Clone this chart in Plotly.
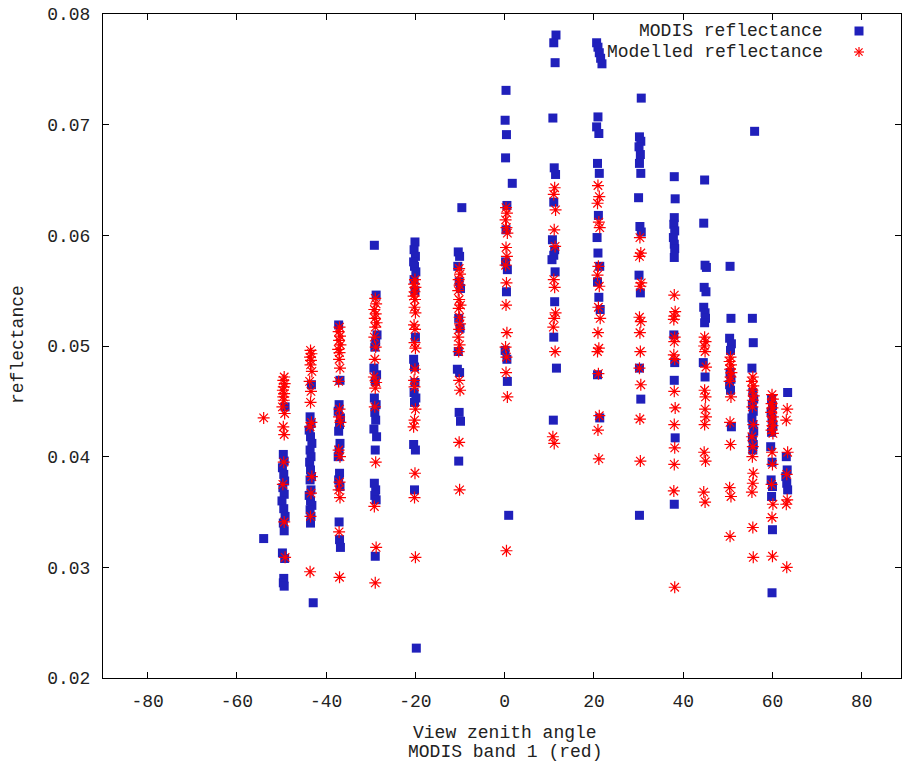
import plotly.graph_objects as go

# ---- MODIS reflectance (blue squares): view zenith angle, reflectance ----
modis_vza = (
    [-54.0]
    + [-49.2, -49.6, -49.4, -49.8, -49.5, -49.3, -49.7, -49.4, -49.9, -49.5, -49.2, -49.6, -49.4, -49.8, -49.3, -49.5, -49.6, -49.4]
    + [-43.3, -43.6, -43.4, -43.8, -43.5, -43.2, -43.6, -43.4, -43.7, -43.5, -43.3, -43.6, -43.4, -43.8, -43.5, -43.2, -43.6, -43.4, -43.5, -42.9]
    + [-37.2, -36.9, -37.1, -37.3, -36.8, -37.0, -37.2, -36.9, -37.1, -37.3, -37.0, -37.2, -36.9, -37.1, -37.0, -36.8]
    + [-29.2, -28.8, -28.6, -28.9, -29.1, -29.3, -28.7, -29.0, -29.2, -28.8, -29.1, -28.9, -29.3, -28.7, -29.0, -29.2, -28.9, -29.1, -28.8, -29.0]
    + [-20.1, -20.3, -20.0, -20.4, -20.2, -19.9, -20.3, -20.1, -20.0, -20.4, -20.2, -20.1, -20.3, -19.9, -20.2, -20.4, -20.0, -20.2, -19.8]
    + [-9.6, -10.4, -10.1, -10.5, -10.2, -9.9, -10.3, -10.0, -10.4, -10.6, -10.1, -10.2, -9.9, -10.3]
    + [0.3, 0.1, 0.4, 0.2, 1.7, 0.5, 0.3, 0.2, 0.6, 0.4, 0.1, 0.5, 0.6, 0.9]
    + [11.5, 11.0, 11.3, 10.8, 11.1, 11.4, 11.0, 10.7, 11.2, 11.0, 10.6, 11.3, 11.2, 11.0, 11.6, 10.9]
    + [20.6, 20.9, 21.2, 21.5, 21.8, 20.9, 20.6, 21.1, 20.8, 21.2, 21.0, 20.7, 20.9, 21.3, 20.8, 21.1, 21.4, 20.8, 21.3]
    + [30.6, 30.2, 30.5, 30.1, 30.4, 30.2, 30.5, 30.0, 30.3, 30.6, 30.1, 30.4, 30.2, 30.5, 30.2]
    + [38.0, 38.2, 38.0, 37.9, 38.1, 37.8, 38.0, 38.1, 38.0, 37.9, 38.1, 38.0, 38.2, 38.0]
    + [44.8, 44.6, 44.9, 45.2, 44.7, 45.1, 44.6, 44.9, 45.0, 44.8, 44.5, 44.9]
    + [50.5, 50.7, 50.4, 50.8, 50.6, 50.5, 50.7, 50.4, 50.6, 50.8]
    + [56.0, 55.5, 55.7, 55.4, 55.6, 55.8, 55.5, 55.7, 55.4, 55.6, 55.8, 55.5, 55.7, 55.6]
    + [59.8, 60.0, 59.7, 59.9, 60.1, 59.8, 59.6, 59.9, 59.7, 60.0, 59.8, 60.0, 59.9]
    + [63.4, 63.1, 63.3, 63.0, 63.2, 63.4]
)
modis_refl = (
    [0.0326]
    + [0.0445, 0.0402, 0.0396, 0.0390, 0.0384, 0.0378, 0.0372, 0.0366, 0.0360, 0.0353, 0.0346, 0.0340, 0.0333, 0.0313, 0.0308, 0.0290, 0.0286, 0.0283]
    + [0.0465, 0.0436, 0.0430, 0.0424, 0.0418, 0.0412, 0.0406, 0.0400, 0.0395, 0.0388, 0.0382, 0.0379, 0.0370, 0.0365, 0.0360, 0.0356, 0.0352, 0.0346, 0.0340, 0.0268]
    + [0.0519, 0.0469, 0.0447, 0.0441, 0.0435, 0.0429, 0.0423, 0.0412, 0.0406, 0.0400, 0.0385, 0.0379, 0.0373, 0.0341, 0.0325, 0.0318]
    + [0.0591, 0.0546, 0.0510, 0.0504, 0.0499, 0.0480, 0.0474, 0.0468, 0.0453, 0.0447, 0.0440, 0.0433, 0.0425, 0.0418, 0.0406, 0.0376, 0.0370, 0.0365, 0.0361, 0.0310]
    + [0.0594, 0.0587, 0.0581, 0.0576, 0.0572, 0.0567, 0.0560, 0.0550, 0.0508, 0.0488, 0.0481, 0.0467, 0.0458, 0.0453, 0.0449, 0.0411, 0.0406, 0.0370, 0.0227]
    + [0.0625, 0.0585, 0.0581, 0.0572, 0.0558, 0.0552, 0.0525, 0.0516, 0.0495, 0.0479, 0.0476, 0.0440, 0.0432, 0.0396]
    + [0.0731, 0.0704, 0.0691, 0.0670, 0.0647, 0.0627, 0.0605, 0.0576, 0.0569, 0.0549, 0.0496, 0.0488, 0.0468, 0.0347]
    + [0.0781, 0.0774, 0.0756, 0.0706, 0.0661, 0.0655, 0.0630, 0.0596, 0.0587, 0.0582, 0.0578, 0.0567, 0.0540, 0.0508, 0.0480, 0.0433]
    + [0.0774, 0.0770, 0.0765, 0.0760, 0.0755, 0.0707, 0.0698, 0.0692, 0.0665, 0.0656, 0.0618, 0.0598, 0.0584, 0.0572, 0.0558, 0.0544, 0.0533, 0.0474, 0.0435]
    + [0.0724, 0.0689, 0.0685, 0.0680, 0.0673, 0.0665, 0.0656, 0.0634, 0.0608, 0.0603, 0.0564, 0.0548, 0.0480, 0.0452, 0.0347]
    + [0.0653, 0.0633, 0.0616, 0.0610, 0.0604, 0.0598, 0.0592, 0.0588, 0.0580, 0.0510, 0.0485, 0.0469, 0.0417, 0.0357]
    + [0.0650, 0.0611, 0.0573, 0.0571, 0.0553, 0.0549, 0.0535, 0.0530, 0.0525, 0.0521, 0.0485, 0.0472]
    + [0.0572, 0.0525, 0.0507, 0.0502, 0.0496, 0.0476, 0.0470, 0.0465, 0.0460, 0.0427]
    + [0.0694, 0.0525, 0.0503, 0.0480, 0.0458, 0.0452, 0.0447, 0.0441, 0.0435, 0.0429, 0.0423, 0.0417, 0.0411, 0.0406]
    + [0.0452, 0.0446, 0.0440, 0.0434, 0.0428, 0.0422, 0.0409, 0.0395, 0.0379, 0.0373, 0.0364, 0.0334, 0.0277]
    + [0.0458, 0.0400, 0.0388, 0.0382, 0.0376, 0.0370]
)

# ---- Modelled reflectance (red asterisks) ----
model_vza = (
    [-54.0]
    + [-49.4, -49.6, -49.3, -49.5, -49.7, -49.4, -49.6, -49.5, -49.8, -49.3, -49.6, -49.4, -49.5, -49.7, -49.4, -49.2]
    + [-43.5, -43.3, -43.6, -43.4, -43.5, -43.2, -43.7, -43.4, -43.5, -43.3, -43.6, -43.2, -43.4, -43.5, -43.6]
    + [-37.0, -37.2, -36.9, -37.1, -36.8, -37.3, -37.0, -37.1, -36.9, -37.2, -37.0, -37.1, -36.8, -37.2, -36.9, -37.0, -37.2, -36.9, -37.1, -37.0]
    + [-29.0, -28.8, -29.2, -28.9, -29.1, -28.7, -29.0, -29.2, -28.9, -29.1, -29.3, -28.8, -29.0, -29.1, -28.9, -29.2, -28.8, -29.0]
    + [-20.1, -20.3, -20.0, -20.2, -20.4, -20.1, -20.2, -20.0, -20.3, -20.1, -20.2, -20.0, -20.1, -20.3, -20.2, -20.0, -20.2, -20.4, -20.1, -20.2, -20.0]
    + [-10.2, -10.0, -10.3, -10.1, -10.4, -10.2, -9.9, -10.3, -10.1, -10.0, -10.2, -10.4, -10.1, -10.3, -10.2, -10.0, -10.2, -10.1]
    + [0.3, 0.5, 0.2, 0.4, 0.6, 0.3, 0.5, 0.2, 0.4, 0.3, 0.5, 0.2, 0.4, 0.3, 0.6, 0.4]
    + [11.2, 11.0, 11.4, 11.1, 11.3, 11.0, 11.2, 11.4, 11.1, 10.9, 11.3, 10.8, 11.1]
    + [20.9, 21.2, 20.8, 21.1, 21.3, 21.0, 20.8, 21.2, 21.0, 21.4, 20.9, 21.1, 20.8, 21.0, 21.2, 20.9, 21.1]
    + [30.3, 30.5, 30.2, 30.6, 30.4, 30.2, 30.5, 30.3, 30.4, 30.2, 30.5, 30.3, 30.4]
    + [38.0, 38.2, 38.0, 37.9, 38.1, 38.0, 37.9, 38.1, 38.0, 38.2, 38.0, 38.1, 38.0, 37.9, 38.1]
    + [44.8, 45.0, 44.7, 44.9, 45.1, 44.8, 45.0, 44.9, 45.1, 44.8, 44.7, 45.0, 44.6, 44.9]
    + [50.6, 50.4, 50.7, 50.5, 50.8, 50.6, 50.4, 50.7, 50.5, 50.6, 50.4, 50.7, 50.5]
    + [55.6, 55.4, 55.7, 55.5, 55.8, 55.6, 55.5, 55.7, 55.4, 55.6, 55.5, 55.7, 55.6, 55.4, 55.6, 55.7]
    + [59.9, 60.1, 59.8, 60.0, 59.7, 60.1, 59.9, 60.0, 59.8, 60.1, 59.9, 60.0, 59.8, 60.1, 59.9, 60.0]
    + [63.3, 63.1, 63.4, 63.2, 63.3, 63.1, 63.2]
)
model_refl = (
    [0.0435]
    + [0.0472, 0.0469, 0.0466, 0.0463, 0.0460, 0.0457, 0.0454, 0.0451, 0.0445, 0.0439, 0.0427, 0.0420, 0.0395, 0.0375, 0.0341, 0.0309]
    + [0.0496, 0.0493, 0.0490, 0.0487, 0.0483, 0.0477, 0.0468, 0.0459, 0.0449, 0.0431, 0.0427, 0.0382, 0.0367, 0.0346, 0.0296]
    + [0.0517, 0.0513, 0.0509, 0.0505, 0.0501, 0.0497, 0.0494, 0.0488, 0.0480, 0.0468, 0.0443, 0.0436, 0.0431, 0.0406, 0.0400, 0.0377, 0.0370, 0.0363, 0.0332, 0.0291]
    + [0.0543, 0.0538, 0.0533, 0.0529, 0.0525, 0.0521, 0.0517, 0.0508, 0.0499, 0.0488, 0.0472, 0.0467, 0.0462, 0.0445, 0.0395, 0.0355, 0.0318, 0.0286]
    + [0.0560, 0.0556, 0.0553, 0.0549, 0.0545, 0.0542, 0.0535, 0.0530, 0.0519, 0.0515, 0.0503, 0.0498, 0.0479, 0.0469, 0.0463, 0.0443, 0.0433, 0.0427, 0.0385, 0.0363, 0.0309]
    + [0.0570, 0.0565, 0.0560, 0.0555, 0.0550, 0.0542, 0.0537, 0.0534, 0.0526, 0.0520, 0.0515, 0.0508, 0.0501, 0.0495, 0.0469, 0.0460, 0.0413, 0.0370]
    + [0.0625, 0.0620, 0.0614, 0.0607, 0.0602, 0.0589, 0.0581, 0.0573, 0.0557, 0.0537, 0.0512, 0.0499, 0.0490, 0.0476, 0.0454, 0.0315]
    + [0.0643, 0.0637, 0.0623, 0.0605, 0.0590, 0.0560, 0.0553, 0.0530, 0.0525, 0.0517, 0.0495, 0.0418, 0.0412]
    + [0.0645, 0.0635, 0.0629, 0.0612, 0.0607, 0.0572, 0.0564, 0.0554, 0.0535, 0.0525, 0.0512, 0.0498, 0.0495, 0.0475, 0.0437, 0.0424, 0.0398]
    + [0.0598, 0.0584, 0.0581, 0.0557, 0.0554, 0.0526, 0.0522, 0.0512, 0.0495, 0.0480, 0.0465, 0.0434, 0.0396]
    + [0.0546, 0.0531, 0.0527, 0.0524, 0.0508, 0.0504, 0.0492, 0.0488, 0.0459, 0.0444, 0.0429, 0.0408, 0.0393, 0.0369, 0.0282]
    + [0.0508, 0.0504, 0.0500, 0.0495, 0.0481, 0.0460, 0.0454, 0.0443, 0.0436, 0.0429, 0.0404, 0.0396, 0.0368, 0.0359]
    + [0.0490, 0.0486, 0.0483, 0.0479, 0.0476, 0.0472, 0.0468, 0.0454, 0.0431, 0.0411, 0.0372, 0.0364, 0.0328]
    + [0.0472, 0.0468, 0.0464, 0.0460, 0.0455, 0.0451, 0.0445, 0.0429, 0.0418, 0.0409, 0.0400, 0.0385, 0.0376, 0.0368, 0.0336, 0.0309]
    + [0.0456, 0.0452, 0.0448, 0.0444, 0.0440, 0.0436, 0.0432, 0.0428, 0.0424, 0.0421, 0.0404, 0.0393, 0.0375, 0.0357, 0.0345, 0.0310]
    + [0.0443, 0.0433, 0.0404, 0.0384, 0.0361, 0.0357, 0.0300]
)

series_names = ["MODIS reflectance", "Modelled reflectance"]
x_ticks = [-80, -60, -40, -20, 0, 20, 40, 60, 80]
y_ticks = [0.02, 0.03, 0.04, 0.05, 0.06, 0.07, 0.08]

BLUE = "#2020bb"
RED = "#ff0000"
FONT = "Liberation Mono"
FS = 18

W, H = 902, 764
L, R, T, B = 103, 1, 14, 86
PW, PH = W - L - R, H - T - B


def px(xp):
    return (xp - L) / PW


def py(yp):
    return (H - B - yp) / PH


fig = go.Figure()
fig.add_trace(go.Scatter(
    x=modis_vza, y=modis_refl, mode="markers", name=series_names[0],
    marker=dict(symbol="square", size=9, color=BLUE, line=dict(width=0)),
    showlegend=False,
))
fig.add_trace(go.Scatter(
    x=model_vza, y=model_refl, mode="markers", name=series_names[1],
    marker=dict(symbol="asterisk-open", size=10, color=RED, line=dict(width=1.2, color=RED)),
    showlegend=False,
))

axis_common = dict(
    showline=True, linecolor="#000000", linewidth=1, mirror="allticks",
    ticks="inside", ticklen=6, tickwidth=1, tickcolor="#000000",
    showgrid=False, zeroline=False,
    tickfont=dict(family=FONT, size=FS, color="#222222"),
)

fig.update_xaxes(range=[-90, 88.8], tickvals=x_ticks, ticktext=[str(v) for v in x_ticks],
                 ticklabelstandoff=6, **axis_common)
fig.update_yaxes(range=[0.02, 0.08], tickvals=y_ticks, ticktext=[f"{v:.2f}" for v in y_ticks],
                 ticklabelstandoff=8, **axis_common)

annotations = [
    dict(text="reflectance", x=px(18), y=py(345), textangle=-90),
    dict(text="View zenith angle", x=px(505), y=py(733)),
    dict(text="MODIS band 1 (red)", x=px(505), y=py(752)),
    dict(text=series_names[0], x=px(825), y=py(31), xanchor="right"),
    dict(text=series_names[1], x=px(825), y=py(52), xanchor="right"),
]
for a in annotations:
    a.setdefault("xanchor", "center")
    a.update(xref="paper", yref="paper", yanchor="middle", showarrow=False,
             font=dict(family=FONT, size=FS, color="#222222"))
fig.update_layout(annotations=annotations)

# legend keys
shapes = [dict(type="rect", xref="paper", yref="paper", xsizemode="pixel", ysizemode="pixel",
               xanchor=px(859), yanchor=py(31), x0=-4.5, x1=4.5, y0=-4.5, y1=4.5,
               fillcolor=BLUE, line=dict(width=0))]
for (dx, dy) in [(5, 0), (0, 5), (3.6, 3.6), (3.6, -3.6)]:
    shapes.append(dict(type="line", xref="paper", yref="paper", xsizemode="pixel", ysizemode="pixel",
                       xanchor=px(859), yanchor=py(52), x0=-dx, x1=dx, y0=-dy, y1=dy,
                       line=dict(color=RED, width=1.2)))
fig.update_layout(shapes=shapes)

fig.update_layout(
    width=W, height=H,
    margin=dict(l=L, r=R, t=T, b=B, pad=0),
    paper_bgcolor="white", plot_bgcolor="white",
    showlegend=False,
)

fig.write_html("out.html", config={"displayModeBar": False},
               post_script="document.body.style.margin='0';document.body.style.overflow='hidden';")
